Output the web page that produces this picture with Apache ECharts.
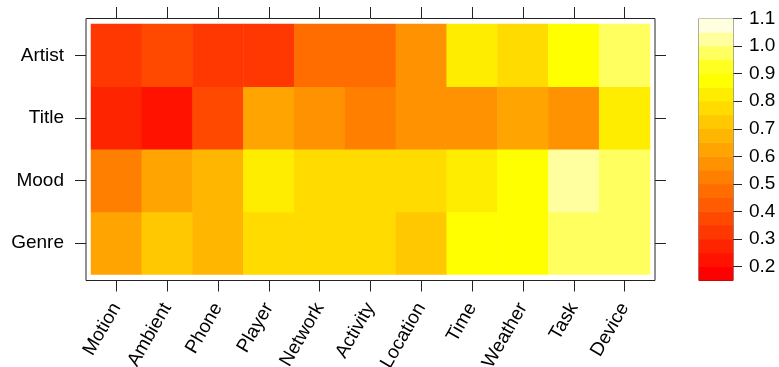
<!DOCTYPE html>
<html>
<head>
<meta charset="utf-8">
<script src="https://cdn.jsdelivr.net/npm/echarts@6/dist/echarts.min.js"></script>
<style>
html,body{margin:0;padding:0;background:#fff;}
#chart{width:779px;height:367px;}
</style>
</head>
<body>
<div id="chart"></div>
<script>
// ---- data ----
const colNames = ['Motion','Ambient','Phone','Player','Network','Activity','Location','Time','Weather','Task','Device'];
const rowNames = ['Genre','Mood','Title','Artist']; // bottom to top
const artist = [0.33,0.38,0.33,0.33,0.48,0.48,0.58,0.83,0.78,0.88,0.97];
const title  = [0.28,0.23,0.38,0.63,0.58,0.53,0.58,0.58,0.63,0.58,0.83];
const mood   = [0.53,0.63,0.68,0.83,0.78,0.78,0.78,0.83,0.88,1.02,0.97];
const genre  = [0.63,0.73,0.68,0.78,0.78,0.78,0.73,0.88,0.88,0.97,0.97];
const breaks = [0.15,0.20,0.25,0.30,0.35,0.40,0.45,0.50,0.55,0.60,0.65,0.70,0.75,0.80,0.85,0.90,0.95,1.00,1.05,1.10];
const levelColors = ['#FF0000','#FF1200','#FF2400','#FF3700','#FF4900','#FF5B00','#FF6D00','#FF8000','#FF9200','#FFA400',
                     '#FFB600','#FFC800','#FFDB00','#FFED00','#FFFF00','#FFFF20','#FFFF60','#FFFF9F','#FFFFDF'];
const keyTicks = [0.2,0.3,0.4,0.5,0.6,0.7,0.8,0.9,1.0,1.1];

// ---- build ----
const rows = [genre, mood, title, artist];
const cells = [];
rows.forEach((r, yi) => r.forEach((v, xi) => cells.push([xi, yi, v])));
const binNames = levelColors.map((c, i) => String(i));
const keyCells = levelColors.map((c, i) => [0, i, (breaks[i] + breaks[i + 1]) / 2]);
const pieces = levelColors.map((c, i) => ({gte: breaks[i], lt: breaks[i + 1], color: c}));

const FONT = 'Liberation Sans, Arial, sans-serif';
const FS = 19;
const TICK = '#222';

const chart = echarts.init(document.getElementById('chart'), null, {renderer: 'canvas'});
chart.setOption({
  backgroundColor: '#fff',
  animation: false,
  grid: [
    {left: 91, top: 24, width: 559, height: 250.5, containLabel: false, outerBoundsMode: 'none'},
    {left: 86, top: 18.5, width: 569, height: 262, show: true, borderColor: TICK, borderWidth: 1, backgroundColor: 'transparent', containLabel: false, outerBoundsMode: 'none'},
    {left: 699, top: 18.5, width: 34, height: 262, show: true, borderColor: TICK, borderWidth: 1, backgroundColor: 'transparent', containLabel: false, outerBoundsMode: 'none'}
  ],
  visualMap: {type: 'piecewise', show: false, pieces: pieces, seriesIndex: [0, 1], dimension: 2},
  xAxis: [
    {type: 'category', gridIndex: 0, data: colNames, position: 'bottom', offset: 6,
     axisLine: {show: false}, splitLine: {show: false},
     axisTick: {show: true, alignWithLabel: true, interval: 0, length: 11, lineStyle: {color: TICK, width: 1}},
     axisLabel: {interval: 0, rotate: 60, margin: 24, fontSize: FS, fontFamily: FONT, color: '#000'}},
    {type: 'category', gridIndex: 0, data: colNames, position: 'top', offset: 6,
     axisLine: {show: false}, splitLine: {show: false},
     axisTick: {show: true, alignWithLabel: true, interval: 0, length: 11, lineStyle: {color: TICK, width: 1}},
     axisLabel: {show: false}},
    {type: 'category', gridIndex: 1, data: ['a'], show: false},
    {type: 'category', gridIndex: 2, data: ['k'], show: false}
  ],
  yAxis: [
    {type: 'category', gridIndex: 0, data: rowNames, position: 'left', offset: 5,
     axisLine: {show: false}, splitLine: {show: false},
     axisTick: {show: true, alignWithLabel: true, interval: 0, length: 11, lineStyle: {color: TICK, width: 1}},
     axisLabel: {interval: 0, margin: 22, fontSize: FS, fontFamily: FONT, color: '#000'}},
    {type: 'category', gridIndex: 0, data: rowNames, position: 'right', offset: 5,
     axisLine: {show: false}, splitLine: {show: false},
     axisTick: {show: true, alignWithLabel: true, interval: 0, length: 11, lineStyle: {color: TICK, width: 1}},
     axisLabel: {show: false}},
    {type: 'category', gridIndex: 1, data: ['a'], show: false},
    {type: 'category', gridIndex: 2, data: binNames, show: false},
    {type: 'value', gridIndex: 2, min: 0.15, max: 1.1, position: 'right',
     axisLine: {show: false}, splitLine: {show: false},
     axisTick: {show: true, customValues: keyTicks, length: 9, lineStyle: {color: TICK, width: 1}},
     axisLabel: {customValues: keyTicks, margin: 16, fontSize: FS, fontFamily: FONT, color: '#000',
                 formatter: v => Number(v).toFixed(1)}}
  ],
  series: [
    {type: 'heatmap', xAxisIndex: 0, yAxisIndex: 0, data: cells, itemStyle: {borderWidth: 0}, emphasis: {disabled: true}},
    {type: 'heatmap', xAxisIndex: 3, yAxisIndex: 3, data: keyCells, itemStyle: {borderWidth: 0}, emphasis: {disabled: true}}
  ]
});
</script>
</body>
</html>
